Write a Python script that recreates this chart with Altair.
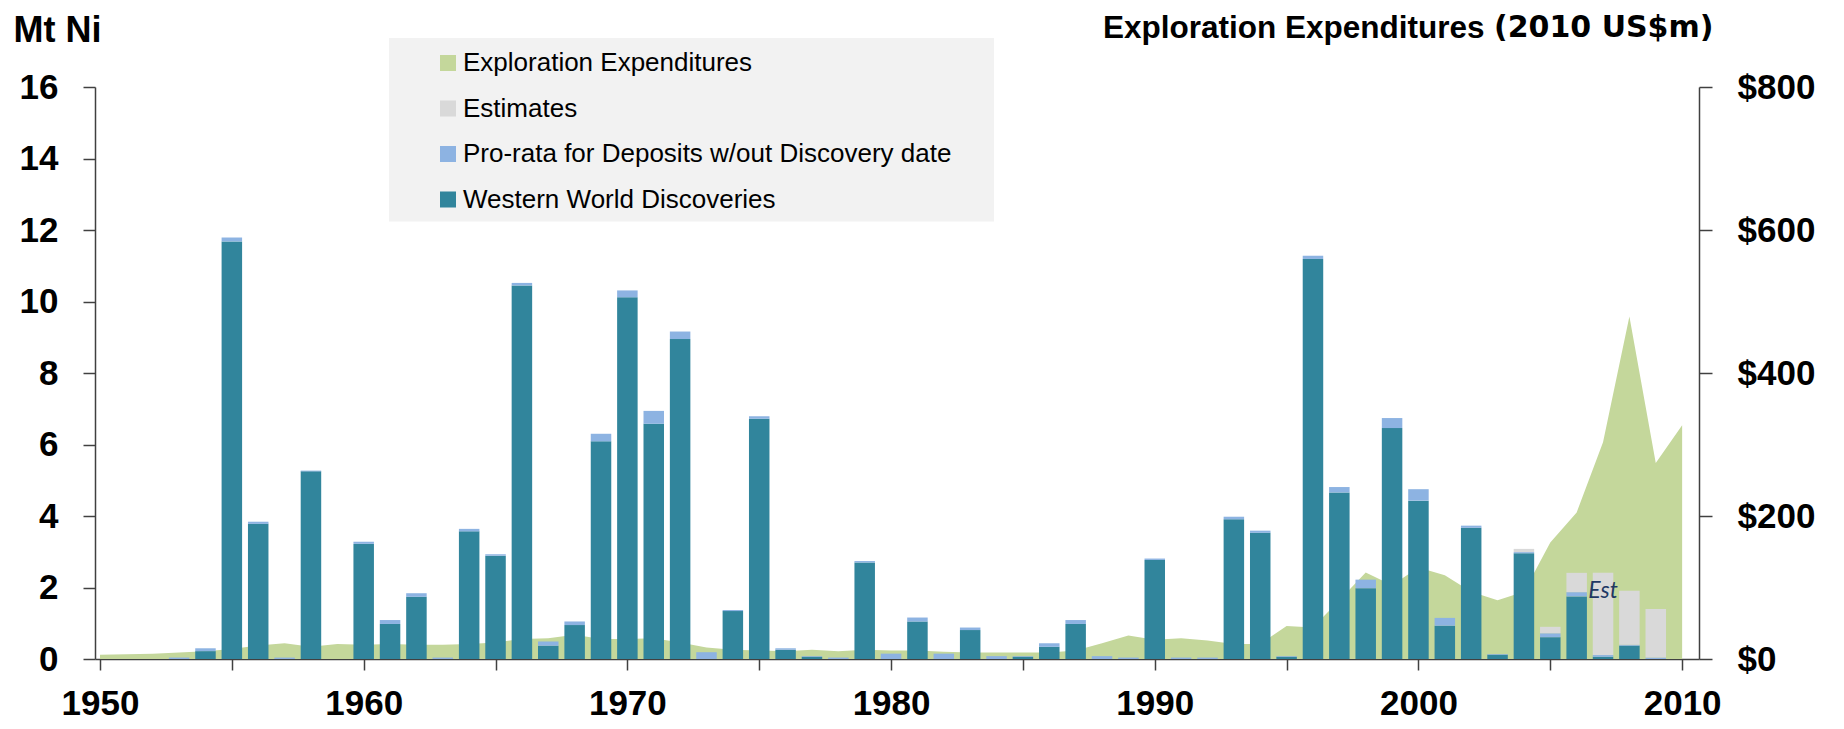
import altair as alt
import pandas as pd

# ---- data ----
years = list(range(1950, 2011))
expenditures = [6, 6.5, 7.5, 9, 11, 14, 19, 22, 17, 21,
                20, 21, 20, 20, 21, 23, 28, 29, 34, 28,
                28, 29, 23, 16, 13, 12, 11, 13, 11, 13,
                12, 12, 10, 9, 9, 9, 9, 12, 22, 33,
                27, 29, 26, 21, 21, 46, 44, 82, 121, 103,
                128, 117, 94, 82, 94, 163, 205, 303, 479, 274,
                327]

bar_years = [1953, 1954, 1955, 1956, 1957, 1958,
             1960, 1961, 1962, 1963, 1964, 1965, 1966, 1967, 1968, 1969,
             1970, 1971, 1972, 1973, 1974, 1975, 1976, 1977, 1978, 1979,
             1980, 1981, 1982, 1983, 1984, 1985, 1986, 1987, 1988, 1989,
             1990, 1991, 1992, 1993, 1994, 1995, 1996, 1997, 1998, 1999,
             2000, 2001, 2002, 2003, 2004, 2005, 2006, 2007, 2008, 2009]
discoveries = [0, 0.22, 11.68, 3.78, 0, 5.25,
               3.22, 0.98, 1.74, 0, 3.57, 2.89, 10.45, 0.37, 0.95, 6.09,
               10.12, 6.58, 8.95, 0, 1.34, 6.72, 0.26, 0.06, 0, 2.70,
               0, 1.05, 0, 0.81, 0, 0.06, 0.34, 0.98, 0, 0,
               2.77, 0, 0, 3.91, 3.53, 0.06, 11.19, 4.66, 1.98, 6.46,
               4.43, 0.93, 3.67, 0.12, 2.96, 0.61, 1.75, 0.06, 0.37, 0]
prorata = [0.04, 0.08, 0.11, 0.06, 0.04, 0.02,
           0.06, 0.11, 0.10, 0.04, 0.07, 0.04, 0.07, 0.12, 0.10, 0.21,
           0.19, 0.36, 0.21, 0.19, 0.03, 0.07, 0.04, 0.02, 0.04, 0.04,
           0.15, 0.11, 0.15, 0.07, 0.08, 0.02, 0.10, 0.11, 0.08, 0.04,
           0.04, 0.04, 0.04, 0.07, 0.06, 0.02, 0.09, 0.15, 0.24, 0.28,
           0.32, 0.22, 0.06, 0.02, 0.03, 0.11, 0.12, 0.05, 0.03, 0.04]
est_years = [2004, 2005, 2006, 2007, 2008, 2009]
estimates = [0.09, 0.18, 0.54, 2.30, 1.51, 1.36]

series = ["Exploration Expenditures", "Estimates",
          "Pro-rata for Deposits w/out Discovery date", "Western World Discoveries"]
colors = ["#c4d79b", "#d9d9d9", "#8db3e2", "#31859c"]

# ---- tables ----
area_df = pd.DataFrame({"year": years, "value": expenditures, "series": series[0]})
rows = []
for y, d, p in zip(bar_years, discoveries, prorata):
    rows.append({"year": y, "value": d, "series": series[3], "ord": 0})
    rows.append({"year": y, "value": p, "series": series[2], "ord": 1})
for y, e in zip(est_years, estimates):
    rows.append({"year": y, "value": e, "series": series[1], "ord": 2})
bar_df = pd.DataFrame(rows)
est_df = pd.DataFrame({"year": [2007], "value": [1.70], "label": ["Est"]})
one = pd.DataFrame({"t": ["(2010 US$m)"]})

BOLD = "Liberation Sans, Arial, sans-serif"
AXC = "#404040"

x_scale = alt.Scale(domain=[1950, 2010.45], nice=False, zero=False)
x_axis = alt.Axis(values=list(range(1950, 2011, 5)), format="d",
                  labelExpr="datum.value % 10 == 0 ? datum.label : ''",
                  title=None, grid=False, tickSize=11, labelPadding=16,
                  labelFont=BOLD, labelFontSize=35, labelFontWeight="bold",
                  labelColor="black", domainColor=AXC, tickColor=AXC,
                  domainWidth=1.5, tickWidth=1.5, labelFlush=False, labelOverlap=False)

legend = alt.Legend(title=None, orient="none", legendX=340, legendY=-37,
                    symbolType="square", symbolSize=256, symbolStrokeWidth=0,
                    symbolOpacity=1, labelFont="Liberation Sans", labelFontSize=26,
                    labelColor="black", rowPadding=19.5, labelOffset=2, labelLimit=800,
                    padding=0, direction="vertical")
color = alt.Color("series:N", scale=alt.Scale(domain=series, range=colors), legend=legend)

bg = alt.Chart(one).mark_rect(color="#f2f2f2").encode(
    x=alt.value(294), x2=alt.value(899), y=alt.value(-49), y2=alt.value(134.5))

area = alt.Chart(area_df).mark_area(opacity=1, interpolate="linear").encode(
    x=alt.X("year:Q", scale=x_scale, axis=x_axis),
    y=alt.Y("value:Q", scale=alt.Scale(domain=[0, 800], nice=False),
            axis=alt.Axis(orient="right", values=[0, 200, 400, 600, 800],
                          labelExpr="'$' + datum.value", grid=False,
                          tickSize=13, labelPadding=25, labelFont=BOLD,
                          labelFontSize=35, labelFontWeight="bold", labelColor="black",
                          domainColor=AXC, tickColor=AXC, domainWidth=1.5, tickWidth=1.5,
                          title="Exploration Expenditures", titleAngle=0,
                          titleAlign="right", titleBaseline="alphabetic",
                          titleX=-215, titleY=-50, titleFont=BOLD, titleFontSize=31.5,
                          titleFontWeight="bold", titleColor="black")),
    color=color)

bars = alt.Chart(bar_df).mark_bar(size=20.5).encode(
    x=alt.X("year:Q", scale=x_scale, axis=x_axis),
    y=alt.Y("value:Q", stack="zero", scale=alt.Scale(domain=[0, 16], nice=False),
            axis=alt.Axis(orient="left", values=list(range(0, 17, 2)), grid=False,
                          tickSize=12, labelPadding=25, labelFont=BOLD,
                          labelFontSize=35, labelFontWeight="bold", labelColor="black",
                          domainColor=AXC, tickColor=AXC, domainWidth=1.5, tickWidth=1.5,
                          title="Mt Ni", titleAngle=0, titleAlign="left",
                          titleBaseline="alphabetic", titleX=-82, titleY=-46,
                          titleFont=BOLD, titleFontSize=36, titleFontWeight="bold",
                          titleColor="black")),
    color=color,
    order=alt.Order("ord:Q", sort="ascending"))

est_text = alt.Chart(est_df).mark_text(
    font="Lato", fontStyle="italic", fontSize=23, color="#1f3864",
    align="center", baseline="alphabetic").encode(
    x=alt.X("year:Q", scale=x_scale, axis=x_axis),
    y=alt.Y("value:Q", scale=alt.Scale(domain=[0, 16], nice=False), axis=None),
    text="label:N")

sub = alt.Chart(one).mark_text(
    font="DejaVu Sans", fontSize=30, fontWeight="bold",
    color="black", align="left", baseline="alphabetic").encode(
    x=alt.value(1399), y=alt.value(-50), text="t:N")

chart = alt.layer(bg, area, bars, est_text, sub).resolve_scale(
    y="independent"
).properties(
    width=1604, height=572,
    autosize=alt.AutoSizeParams(type="none"),
    padding={"left": 87, "top": 79, "right": 137, "bottom": 62},
).configure_view(stroke=None)

chart.save("out.html", embed_options={"renderer": "svg", "actions": False})
